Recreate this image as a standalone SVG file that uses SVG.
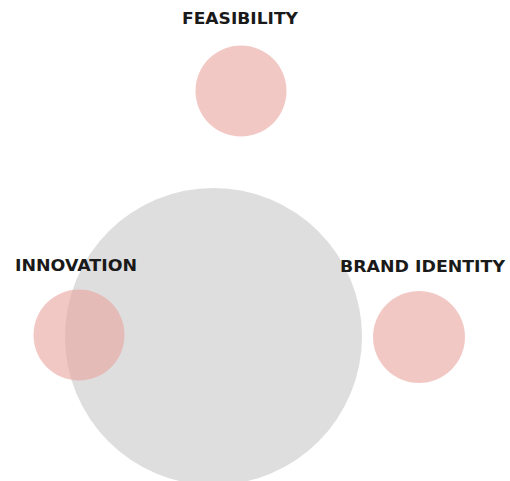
<svg xmlns="http://www.w3.org/2000/svg" width="510" height="481" viewBox="0 0 510 481">
<style>
.lbl{font-family:"DejaVu Sans","Liberation Sans",sans-serif;font-weight:700;font-size:16.5px;fill:#1a1a1a}
.pink{fill:#eaa39d;fill-opacity:0.6}
.core{fill:#dedede}
</style>
<rect width="510" height="481" fill="#ffffff"/>
<g id="core"><circle class="core" cx="213.5" cy="336.5" r="148.5"/></g>
<g id="feasibility">
<circle class="pink" cx="241" cy="91" r="45.5"/>
<text class="lbl" x="182" y="24" textLength="116" lengthAdjust="spacingAndGlyphs">FEASIBILITY</text>
</g>
<g id="innovation">
<circle class="pink" cx="79" cy="335" r="45.5"/>
<text class="lbl" x="15" y="271" textLength="122" lengthAdjust="spacingAndGlyphs">INNOVATION</text>
</g>
<g id="brand-identity">
<circle class="pink" cx="419" cy="337" r="46"/>
<text class="lbl" x="340" y="272" textLength="165" lengthAdjust="spacingAndGlyphs">BRAND IDENTITY</text>
</g>
<g id="connectors"></g>
</svg>
